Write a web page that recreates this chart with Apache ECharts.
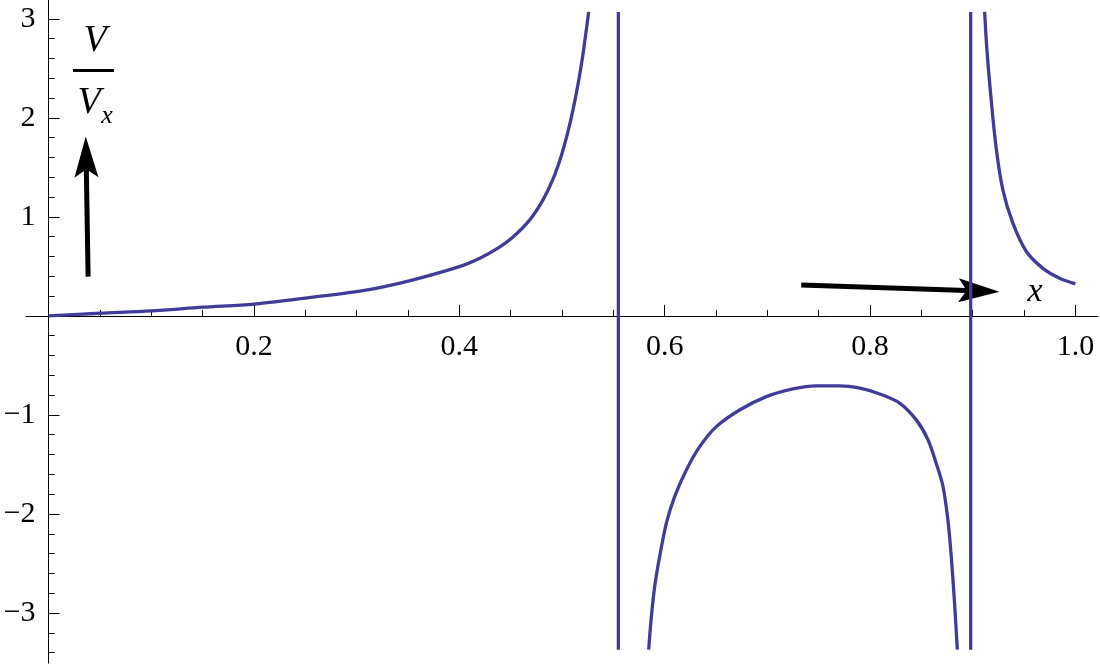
<!DOCTYPE html>
<html>
<head>
<meta charset="utf-8">
<script src="https://cdn.jsdelivr.net/npm/echarts@6/dist/echarts.min.js"></script>
<style>
  html, body { margin: 0; padding: 0; background: #fff; }
  #chart { width: 1100px; height: 667px; }
</style>
</head>
<body>
<div id="chart"></div>
<script>
// branch left of the first pole
var seg1X = [0, 0.05, 0.1, 0.15, 0.2, 0.25, 0.3, 0.3225, 0.355, 0.4, 0.42, 0.436, 0.452, 0.4686, 0.4815, 0.4912, 0.4994, 0.5058, 0.5107, 0.5156, 0.5198, 0.5237, 0.526];
var seg1Y = [0, 0.027, 0.05, 0.088, 0.12, 0.18, 0.245, 0.285, 0.364, 0.498, 0.583, 0.674, 0.795, 0.97, 1.172, 1.38, 1.62, 1.86, 2.08, 2.34, 2.6, 2.89, 3.07];
// branch between the poles
var seg2X = [0.5844, 0.587, 0.5903, 0.5951, 0.6017, 0.6097, 0.6211, 0.6341, 0.6503, 0.673, 0.699, 0.725, 0.7477, 0.7704, 0.79, 0.8094, 0.8288, 0.845, 0.8564, 0.8645, 0.871, 0.8758, 0.8791, 0.8823, 0.885];
var seg2Y = [-3.37, -3.04, -2.73, -2.43, -2.09, -1.825, -1.556, -1.32, -1.118, -0.95, -0.815, -0.737, -0.707, -0.707, -0.73, -0.788, -0.88, -1.05, -1.25, -1.49, -1.72, -2.06, -2.43, -2.9, -3.37];
// branch right of the second pole
var seg3X = [0.9116, 0.9138, 0.918, 0.923, 0.9294, 0.9391, 0.9522, 0.9684, 0.9846, 1.0];
var seg3Y = [3.07, 2.69, 2.18, 1.68, 1.27, 0.936, 0.65, 0.48, 0.38, 0.323];
// vertical jumps drawn at the poles
var poleX = [0.5549, 0.898];
var poleY = [3.07, -3.37];

var xMajor = [0.2, 0.4, 0.6, 0.8, 1.0];
var xMinor = [0.05, 0.1, 0.15, 0.25, 0.3, 0.35, 0.45, 0.5, 0.55, 0.65, 0.7, 0.75, 0.85, 0.9, 0.95];
var yMajor = [-3, -2, -1, 1, 2, 3];
var yMinor = [-3.4, -3.2, -2.8, -2.6, -2.4, -2.2, -1.8, -1.6, -1.4, -1.2, -0.8, -0.6, -0.4, -0.2,
              0.2, 0.4, 0.6, 0.8, 1.2, 1.4, 1.6, 1.8, 2.2, 2.4, 2.6, 2.8];

// annotation arrows (data coords)
var arrowUp = [[0.0385, 0.397], [0.0362, 1.811]];
var arrowRight = [[0.733, 0.313], [0.926, 0.245]];

var xMin = -0.022, xMax = 1.022, yMin = -3.505, yMax = 3.19;
var gridBox = { left: 26, right: 2, top: 0, bottom: 4 };
var W = 1100 - gridBox.left - gridBox.right;
var H = 667 - gridBox.top - gridBox.bottom;
// axes cross at the origin: shift them in from the grid edges
var offBottom = -(0 - yMin) / (yMax - yMin) * H;
var offTop = -(yMax - 0) / (yMax - yMin) * H;
var offLeft = -(0 - xMin) / (xMax - xMin) * W;
var offRight = -(xMax - 0) / (xMax - xMin) * W;

var lineColor = '#3f3d99';
var serif = '"Liberation Serif", "DejaVu Serif", serif';

function zip(xs, ys) {
  var out = [];
  for (var i = 0; i < xs.length; i++) out.push([xs[i], ys[i]]);
  return out;
}

var myChart = echarts.init(document.getElementById('chart'));

function curve(data) {
  return {
    type: 'line',
    data: data,
    showSymbol: false,
    smooth: 0.3,
    lineStyle: { color: lineColor, width: 3.3 },
    silent: true,
    animation: false
  };
}

var series = [curve(zip(seg1X, seg1Y)), curve(zip(seg2X, seg2Y)), curve(zip(seg3X, seg3Y))];
for (var i = 0; i < poleX.length; i++) {
  var s = curve([[poleX[i], poleY[0]], [poleX[i], poleY[1]]]);
  s.smooth = false;
  series.push(s);
}

var option = {
  animation: false,
  grid: { left: gridBox.left, right: gridBox.right, top: gridBox.top, bottom: gridBox.bottom, containLabel: false, outerBoundsMode: 'none' },
  xAxis: [
    {
      type: 'value', min: xMin, max: xMax, position: 'bottom', offset: offBottom,
      axisLine: { onZero: false, lineStyle: { color: '#000', width: 1 } },
      axisTick: { inside: true, length: 11, customValues: xMajor, lineStyle: { color: '#000' } },
      axisLabel: {
        customValues: xMajor, margin: 16, color: '#000', fontSize: 30, fontFamily: serif,
        formatter: function (v) { return v.toFixed(1); }
      },
      splitLine: { show: false }
    },
    {
      type: 'value', min: xMin, max: xMax, position: 'top', offset: offTop,
      axisLine: { show: false, onZero: false },
      axisTick: { inside: false, length: 6, customValues: xMinor, lineStyle: { color: '#000' } },
      axisLabel: { show: false },
      splitLine: { show: false }
    }
  ],
  yAxis: [
    {
      type: 'value', min: yMin, max: yMax, position: 'left', offset: offLeft,
      axisLine: { onZero: false, lineStyle: { color: '#000', width: 1 } },
      axisTick: { inside: true, length: 11, customValues: yMajor, lineStyle: { color: '#000' } },
      axisLabel: {
        customValues: yMajor, margin: 13, color: '#000', fontSize: 30, fontFamily: serif,
        formatter: function (v) { return v < 0 ? '\u2212' + Math.abs(v) : String(v); }
      },
      splitLine: { show: false }
    },
    {
      type: 'value', min: yMin, max: yMax, position: 'right', offset: offRight,
      axisLine: { show: false, onZero: false },
      axisTick: { inside: false, length: 6, customValues: yMinor, lineStyle: { color: '#000' } },
      axisLabel: { show: false },
      splitLine: { show: false }
    }
  ],
  series: series
};

myChart.setOption(option, true);

function arrowShapes(pts) {
  var a = myChart.convertToPixel({ xAxisIndex: 0, yAxisIndex: 0 }, pts[0]);
  var b = myChart.convertToPixel({ xAxisIndex: 0, yAxisIndex: 0 }, pts[1]);
  var dx = b[0] - a[0], dy = b[1] - a[1];
  var len = Math.sqrt(dx * dx + dy * dy);
  dx /= len; dy /= len;
  var nx = -dy, ny = dx;
  var L = 41, hw = 12, notch = 0.8 * L;
  var back = [b[0] - L * dx, b[1] - L * dy];
  var mid = [b[0] - notch * dx, b[1] - notch * dy];
  return [
    {
      type: 'line',
      shape: { x1: a[0], y1: a[1], x2: mid[0], y2: mid[1] },
      style: { stroke: '#000', lineWidth: 5 }
    },
    {
      type: 'polygon',
      shape: { points: [b, [back[0] + nx * hw, back[1] + ny * hw], mid, [back[0] - nx * hw, back[1] - ny * hw]] },
      style: { fill: '#000' }
    }
  ];
}

var graphics = arrowShapes(arrowUp).concat(arrowShapes(arrowRight));
graphics.push(
  { type: 'text', x: 95, y: 41, style: { text: 'V', font: 'italic 38px ' + serif, fill: '#000', align: 'center', verticalAlign: 'middle' } },
  { type: 'rect', shape: { x: 73, y: 69, width: 41, height: 3 }, style: { fill: '#000' } },
  { type: 'text', x: 89, y: 103, style: { text: 'V', font: 'italic 38px ' + serif, fill: '#000', align: 'center', verticalAlign: 'middle' } },
  { type: 'text', x: 107, y: 116, style: { text: 'x', font: 'italic 26px ' + serif, fill: '#000', align: 'center', verticalAlign: 'middle' } },
  { type: 'text', x: 1035, y: 292, style: { text: 'x', font: 'italic 34px ' + serif, fill: '#000', align: 'center', verticalAlign: 'middle' } }
);
myChart.setOption({ graphic: graphics });

window.onresize = function () {
  myChart.resize();
};
</script>
</body>
</html>
